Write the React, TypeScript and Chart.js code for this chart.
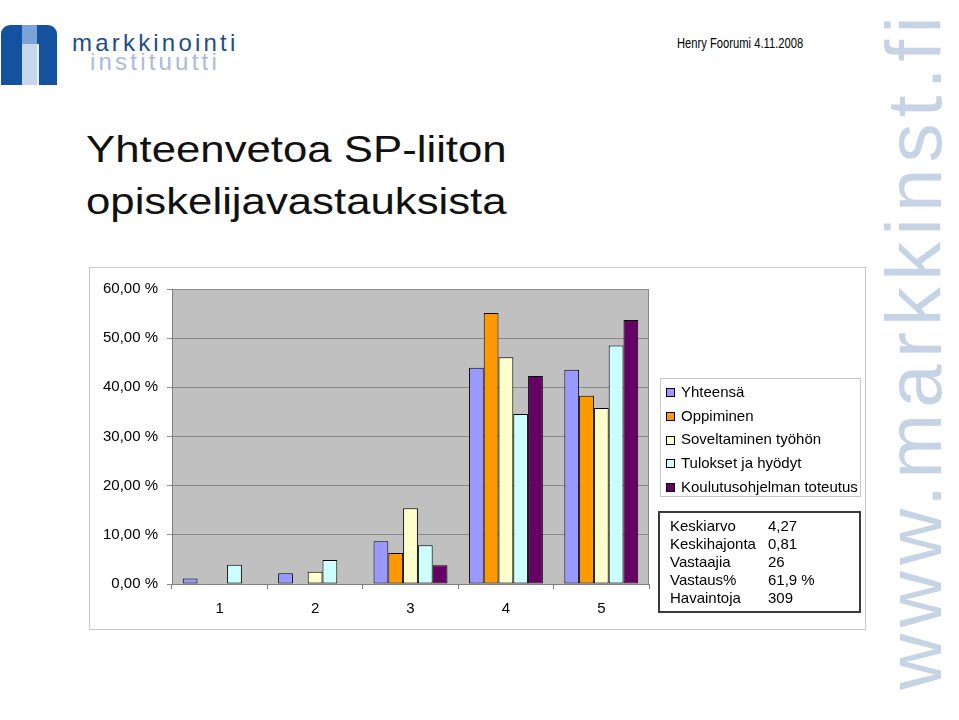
import React, { useEffect, useRef } from "react";
import { Chart, registerables } from "chart.js";

Chart.register(...registerables);

const FONT = '"Liberation Sans", Arial, Helvetica, sans-serif';

const categories = ["1", "2", "3", "4", "5"];
const seriesNames = [
  "Yhteensä",
  "Oppiminen",
  "Soveltaminen työhön",
  "Tulokset ja hyödyt",
  "Koulutusohjelman toteutus",
];
const yhteensa = [1.1, 2.2, 8.7, 44.0, 43.6];
const oppiminen = [0, 0, 6.3, 55.1, 38.3];
const soveltaminen = [0, 2.5, 15.4, 46.1, 35.8];
const tulokset = [3.9, 4.9, 7.9, 34.6, 48.5];
const koulutus = [0, 0, 3.8, 42.3, 53.7];
const seriesValues = [yhteensa, oppiminen, soveltaminen, tulokset, koulutus];
const seriesColors = ["#9999FF", "#FF9900", "#FFFFCC", "#CCFFFF", "#660066"];
const yTicks = [0, 10, 20, 30, 40, 50, 60];

const statLabels = ["Keskiarvo", "Keskihajonta", "Vastaajia", "Vastaus%", "Havaintoja"];
const statValues = ["4,27", "0,81", "26", "61,9 %", "309"];

const titleLines = ["Yhteenvetoa SP-liiton", "opiskelijavastauksista"];
const headerText = "Henry Foorumi 4.11.2008";
const watermarkText = "www.markkinst.fi";

const fmtPct = (v: number) => v.toFixed(2).replace(".", ",") + " %";

const plotFrame = {
  id: "plotFrame",
  beforeDraw(chart: any) {
    const { ctx, chartArea: a } = chart;
    ctx.save();
    ctx.fillStyle = "#C0C0C0";
    ctx.fillRect(a.left, a.top, a.right - a.left, a.bottom - a.top);
    ctx.restore();
  },
  beforeDatasetsDraw(chart: any) {
    const { ctx, chartArea: a } = chart;
    ctx.save();
    ctx.strokeStyle = "#8A8A8A";
    ctx.lineWidth = 1;
    ctx.beginPath();
    ctx.moveTo(Math.round(a.left) + 0.5, Math.round(a.top) + 0.5);
    ctx.lineTo(Math.round(a.right) - 0.5, Math.round(a.top) + 0.5);
    ctx.lineTo(Math.round(a.right) - 0.5, Math.round(a.bottom));
    ctx.stroke();
    ctx.restore();
  },
};

function BarChart() {
  const ref = useRef<HTMLCanvasElement | null>(null);
  useEffect(() => {
    if (!ref.current) return;
    const chart = new Chart(ref.current, {
      type: "bar",
      data: {
        labels: categories,
        datasets: seriesNames.map((name, i) => ({
          label: name,
          data: seriesValues[i],
          backgroundColor: seriesColors[i],
          borderColor: "#000000",
          borderWidth: 1,
          borderSkipped: false,
          categoryPercentage: 0.775,
          barPercentage: 1.0,
        })),
      },
      options: {
        animation: false,
        responsive: false,
        devicePixelRatio: 1,
        layout: { padding: { top: 21, right: 216, left: 0, bottom: 0 } },
        plugins: {
          legend: { display: false },
          tooltip: { enabled: false },
        },
        scales: {
          y: {
            min: 0,
            max: 60,
            afterFit: (s: any) => {
              s.width = 82;
            },
            afterBuildTicks: (s: any) => {
              s.ticks = yTicks.map((v) => ({ value: v }));
            },
            ticks: {
              padding: 9,
              color: "#000000",
              font: { family: FONT, size: 15 },
              callback: (v: any) => fmtPct(Number(v)),
            },
            grid: { color: "#8A8A8A", lineWidth: 1, tickLength: 5 },
            border: { color: "#808080" },
          },
          x: {
            offset: true,
            afterFit: (s: any) => {
              s.height = 45;
            },
            ticks: {
              padding: 11,
              color: "#000000",
              font: { family: FONT, size: 15 },
            },
            grid: {
              offset: true,
              drawOnChartArea: false,
              tickLength: 5,
              color: "#808080",
            },
            border: { color: "#808080" },
          },
        },
      },
      plugins: [plotFrame],
    });
    return () => chart.destroy();
  }, []);
  return <canvas ref={ref} width={775} height={361} style={{ display: "block", width: 775, height: 361 }} />;
}

export default function App() {
  return (
    <div
      style={{
        position: "absolute",
        left: 0,
        top: 0,
        width: 959,
        height: 720,
        overflow: "hidden",
        background: "#ffffff",
        fontFamily: FONT,
        color: "#000",
      }}
    >
      {/* Logo */}
      <div style={{ position: "absolute", left: 1, top: 25, width: 56, height: 60, background: "#1452A0", borderRadius: "9px 9px 0 0" }} />
      <div style={{ position: "absolute", left: 22, top: 25, width: 15, height: 19, background: "#7AA3D6" }} />
      <div style={{ position: "absolute", left: 22, top: 44, width: 15, height: 41, background: "#C6D6EC" }} />
      <div style={{ position: "absolute", left: 37, top: 44, width: 2, height: 41, background: "#E8EEF6" }} />
      <div style={{ position: "absolute", left: 72, top: 28, fontSize: 24, lineHeight: "30px", letterSpacing: 3.2, color: "#1D4F87", whiteSpace: "nowrap" }}>
        markkinointi
      </div>
      <div style={{ position: "absolute", left: 90, top: 47, fontSize: 24, lineHeight: "30px", letterSpacing: 3.2, color: "#A9BCD6", whiteSpace: "nowrap" }}>
        instituutti
      </div>

      {/* Header */}
      <div
        style={{
          position: "absolute",
          left: 677,
          top: 33,
          fontSize: 14,
          lineHeight: "20px",
          whiteSpace: "nowrap",
          transform: "scaleX(0.8)",
          transformOrigin: "0 0",
        }}
      >
        {headerText}
      </div>

      {/* Title */}
      <div
        style={{
          position: "absolute",
          left: 86,
          top: 124,
          fontSize: 36,
          lineHeight: "52px",
          whiteSpace: "nowrap",
          color: "#111",
          transform: "scaleX(1.215)",
          transformOrigin: "0 0",
        }}
      >
        {titleLines.map((t) => (
          <div key={t}>{t}</div>
        ))}
      </div>

      {/* Watermark */}
      <div
        style={{
          position: "absolute",
          left: 875,
          top: 690,
          fontSize: 78,
          lineHeight: "78px",
          letterSpacing: 6.2,
          color: "#C6D3E5",
          whiteSpace: "nowrap",
          transform: "rotate(-90deg)",
          transformOrigin: "0 0",
        }}
      >
        {watermarkText}
      </div>

      {/* Chart frame */}
      <div
        style={{
          position: "absolute",
          left: 89,
          top: 267,
          width: 777,
          height: 363,
          boxSizing: "border-box",
          border: "1px solid #C8C8C8",
          background: "#fff",
        }}
      >
        <BarChart />
      </div>

      {/* Legend */}
      <div
        style={{
          position: "absolute",
          left: 660,
          top: 378,
          width: 201,
          height: 119,
          boxSizing: "border-box",
          border: "1px solid #C8C8C8",
          background: "#fff",
        }}
      >
        {seriesNames.map((n, i) => (
          <div
            key={n}
            style={{
              position: "absolute",
              left: 5,
              top: 1 + i * 23.7,
              height: 23.7,
              display: "flex",
              alignItems: "center",
              whiteSpace: "nowrap",
              fontSize: 15,
              lineHeight: "23.7px",
            }}
          >
            <span
              style={{
                display: "inline-block",
                width: 9,
                height: 9,
                boxSizing: "border-box",
                border: "1px solid #000",
                background: seriesColors[i],
                marginRight: 6,
                marginTop: 2,
              }}
            />
            <span>{n}</span>
          </div>
        ))}
      </div>

      {/* Statistics box */}
      <div
        style={{
          position: "absolute",
          left: 658,
          top: 511,
          width: 203,
          height: 102,
          boxSizing: "border-box",
          border: "2px solid #3A3A3A",
          background: "#fff",
        }}
      >
        {statLabels.map((l, i) => (
          <div
            key={l}
            style={{
              position: "absolute",
              top: 4 + i * 17.9,
              left: 10,
              height: 17.9,
              lineHeight: "17.9px",
              fontSize: 15,
              whiteSpace: "nowrap",
              width: 190,
            }}
          >
            <span>{l}</span>
            <span style={{ position: "absolute", left: 98 }}>{statValues[i]}</span>
          </div>
        ))}
      </div>
    </div>
  );
}
